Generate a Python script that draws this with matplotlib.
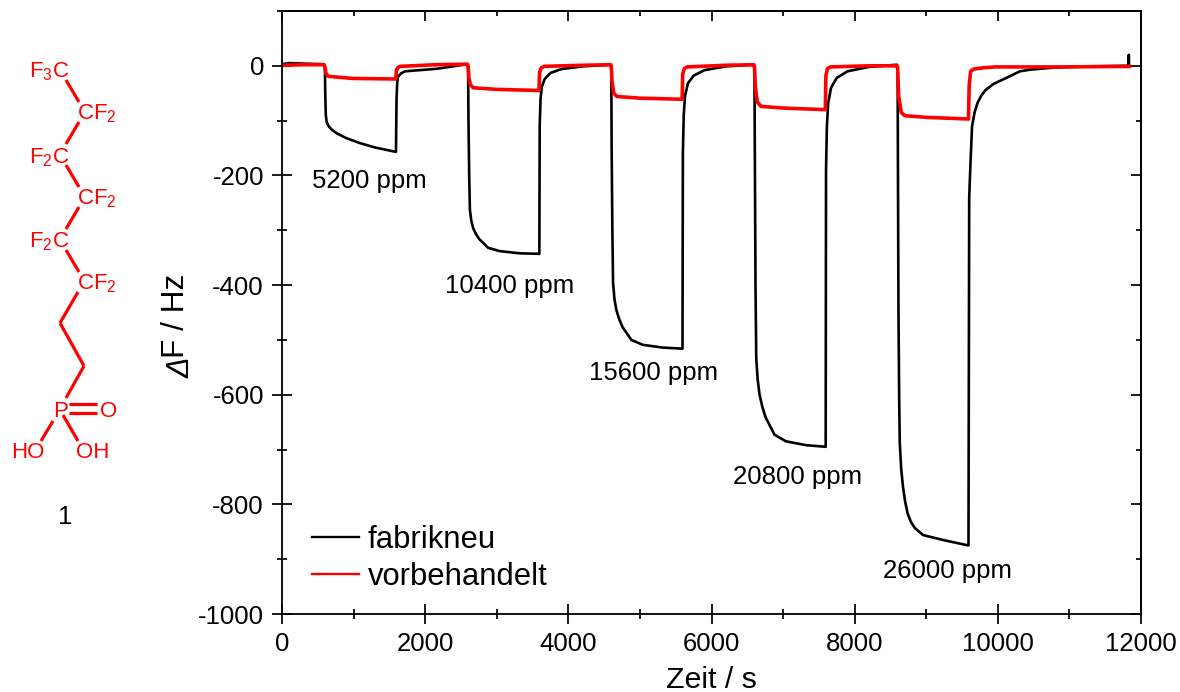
# -*- coding: utf-8 -*-
import matplotlib
matplotlib.use('Agg')
import matplotlib.pyplot as plt
from matplotlib.ticker import MultipleLocator

plt.rcParams['font.family'] = ['Liberation Sans', 'DejaVu Sans']
plt.rcParams['mathtext.fontset'] = 'custom'
plt.rcParams['mathtext.rm'] = 'Liberation Sans'
plt.rcParams['mathtext.it'] = 'Liberation Sans:italic'
plt.rcParams['axes.unicode_minus'] = False

# values
t_black = [0, 100, 300, 560, 595,
           600, 604, 612, 625, 650, 700, 764, 900, 1089, 1300, 1592,
           1600, 1610, 1620, 1660, 1720, 2155, 2590,
           2600, 2605, 2615, 2625, 2645, 2670, 2710, 2755, 2880, 3040, 3320, 3595,
           3600, 3612, 3630, 3670, 3750, 3900, 4200, 4590,
           4600, 4605, 4615, 4625, 4645, 4670, 4710, 4755, 4880, 5040, 5320, 5595,
           5600, 5612, 5630, 5670, 5750, 5900, 6200, 6590,
           6600, 6605, 6615, 6625, 6645, 6670, 6710, 6755, 6880, 7040, 7320, 7595,
           7600, 7612, 7630, 7670, 7750, 7900, 8200, 8590,
           8600, 8605, 8612, 8622, 8630, 8650, 8675, 8705, 8739, 8785, 8840, 8955, 9235, 9590,
           9600, 9620, 9640, 9675, 9715, 9770, 9830, 9940, 10070, 10310, 10450, 10800, 11200,
           11825, 11830, 11832]
v_black = [3, 5, 4, 3, 1,
           -5, -50, -90, -103, -110, -117, -123, -132, -141, -149, -157,
           -60, -30, -20, -14, -10, -5.5, 3,
           -5, -100, -199, -263, -283, -296, -307, -316, -332, -338, -342, -343,
           -110, -60, -38, -24, -13, -6, -1, 2,
           -5, -150, -299, -396, -426, -445, -462, -476, -500, -509, -514, -516,
           -160, -90, -55, -32, -18, -8, -1, 2,
           -5, -150, -403, -533, -572, -599, -622, -641, -673, -685, -692, -695,
           -190, -110, -68, -40, -22, -10, -2, 2,
           -5, -200, -450, -610, -688, -735, -768, -795, -816, -832, -843, -856, -865, -875,
           -240, -171, -110, -85, -68, -54, -44, -33, -25, -10, -7, -3, -1,
           0, 20, 0]

t_red = [0, 300, 590, 600, 612, 645, 800, 990, 1590,
         1598, 1620, 1650, 2150, 2590,
         2600, 2610, 2630, 2670, 3000, 3590,
         3598, 3620, 3660, 4200, 4590,
         4600, 4610, 4635, 4680, 5000, 5590,
         5598, 5620, 5660, 6200, 6590,
         6600, 6612, 6640, 6690, 7000, 7590,
         7598, 7620, 7660, 8200, 8590,
         8600, 8615, 8650, 8700, 9000, 9590,
         9600, 9620, 9660, 9800, 9970, 11000, 11840]
v_red = [1, 2, 2, -3, -13, -19, -21, -23, -24,
         -8, -3, -1, 2, 3,
         0, -20, -34, -40, -43, -45,
         -12, -4, -1, 1, 2,
         0, -28, -50, -56, -59, -61,
         -15, -5, -2, 1, 2,
         0, -38, -66, -74, -77, -80,
         -18, -5, -2, 0, 0,
         -3, -55, -85, -91, -94, -97,
         -35, -10, -6, -3.5, -2, -2, -1]

conc_labels = ['5200 ppm', '10400 ppm', '15600 ppm', '20800 ppm', '26000 ppm']
conc_x = [1215, 3185, 5197, 7209, 9290]
conc_y = [-210, -401, -560, -750, -921]

# structure, in picture pixels
bonds = [((66, 80), (79, 102)), ((79, 122), (66, 144)), ((66, 165), (79, 187)),
         ((79, 207), (66, 229)), ((66, 250), (79, 272)), ((78, 292), (60, 323)),
         ((60, 323), (84, 366)), ((84, 366), (66, 398)), ((69, 404), (97, 404)),
         ((69, 413), (97, 413)), ((53, 421), (41, 441)), ((63, 415), (78, 441))]
atoms = [(29, 77, 'F$_3$C'), (77, 119, 'CF$_2$'), (29, 163, 'F$_2$C'),
         (77, 204, 'CF$_2$'), (29, 247, 'F$_2$C'), (77, 289, 'CF$_2$'),
         (53, 417, 'P'), (100, 417, 'O'), (11, 458, 'HO'), (76, 458, 'OH')]

fig = plt.figure(figsize=(11.8, 6.92), dpi=100)

bg = fig.add_axes([0, 0, 1, 1])
bg.set_xlim(0, 1180)
bg.set_ylim(692, 0)
bg.axis('off')
for a, b in bonds:
    bg.plot([a[0], b[0]], [a[1], b[1]], color='#ff0000', lw=2.3, solid_capstyle='butt')
for x, y, s in atoms:
    bg.text(x, y, s, color='#ff0000', fontsize=16, va='baseline', ha='left')
bg.text(65, 517, '1', color='black', fontsize=18.5, va='center', ha='center')

ax = fig.add_axes([282 / 1180, 1 - 614 / 692, (1141 - 282) / 1180, (614 - 11) / 692])
ax.patch.set_alpha(0)
ax.plot(t_black, v_black, color='black', lw=1.9, label='fabrikneu')
ax.plot(t_red, v_red, color='#ff0000', lw=2.6, label='vorbehandelt')
ax.set_xlim(0, 12000)
ax.set_ylim(-1000, 100)

ax.xaxis.set_major_locator(MultipleLocator(2000))
ax.xaxis.set_minor_locator(MultipleLocator(1000))
ax.yaxis.set_major_locator(MultipleLocator(200))
ax.yaxis.set_minor_locator(MultipleLocator(100))
ax.tick_params(which='major', direction='inout', length=15, width=1.25, labelsize=18.5, pad=5.5)
ax.tick_params(which='minor', direction='inout', length=7.5, width=1.25)

# top and right only tick inwards
top = ax.secondary_xaxis('top')
right = ax.secondary_yaxis('right')
top.xaxis.set_major_locator(MultipleLocator(2000))
top.xaxis.set_minor_locator(MultipleLocator(1000))
right.yaxis.set_major_locator(MultipleLocator(200))
right.yaxis.set_minor_locator(MultipleLocator(100))
for sec in (top, right):
    sec.tick_params(which='major', direction='in', length=7.5, width=1.25,
                    labeltop=False, labelright=False)
    sec.tick_params(which='minor', direction='in', length=3.75, width=1.25)
    for side in sec.spines.values():
        side.set_linewidth(1.3)
for side in ax.spines.values():
    side.set_linewidth(1.3)

ax.set_xlabel('Zeit / s', fontsize=21.8, labelpad=7)

# the delta is italic, mathtext keeps capital greek upright
ax.set_ylabel('F / Hz', fontsize=22.8, ha='left')
ax.yaxis.set_label_coords((191 - 282) / 859, (614 - 358) / 603)
bg.text(190, 378, '\u0394', fontsize=22, style='italic', rotation=90,
        rotation_mode='anchor', ha='left', va='baseline')

for x, y, s in zip(conc_x, conc_y, conc_labels):
    ax.text(x, y, s, fontsize=18.5, ha='center', va='center')

leg = ax.legend(loc='lower left', bbox_to_anchor=(0.035, 0.036), frameon=False, fontsize=22.3,
                handlelength=1.52, handletextpad=0.28, labelspacing=0.23, borderaxespad=0, borderpad=0)
for line in leg.get_lines():
    line.set_linewidth(1.7)

fig.savefig('out.png', dpi=100)
